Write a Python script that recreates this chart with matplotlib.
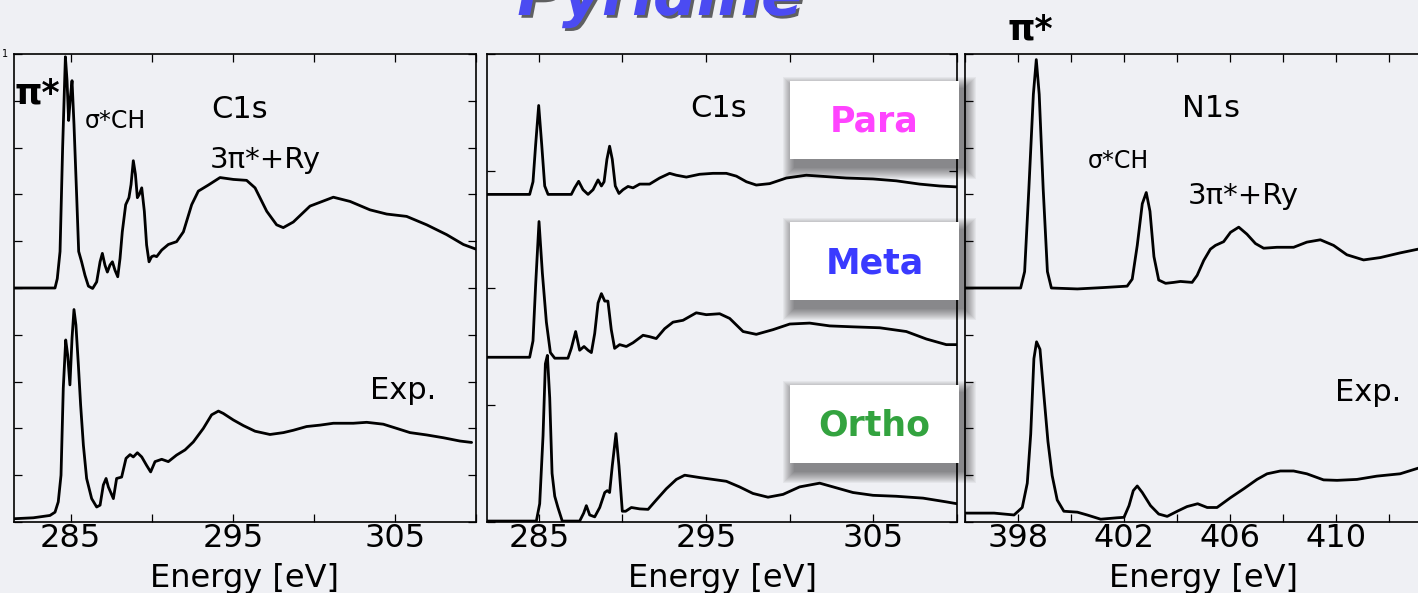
import matplotlib
matplotlib.use("Agg")
import matplotlib.pyplot as plt
import matplotlib.patheffects as pe
from matplotlib.patches import Rectangle
from matplotlib.ticker import MultipleLocator

# C1s, calculated (upper) and experiment (lower)
c1s_calc_e = [281.5, 284.03, 284.17, 284.34, 284.50, 284.67, 284.77, 284.87, 284.98, 285.08,
              285.20, 285.37, 285.49, 285.67, 285.88, 286.09, 286.35, 286.60, 286.81, 286.95,
              287.11, 287.26, 287.42, 287.57, 287.73, 287.90, 288.04, 288.18, 288.39, 288.59,
              288.72, 288.86, 288.99, 289.11, 289.23, 289.38, 289.54, 289.68, 289.83, 289.99,
              290.14, 290.30, 290.61, 291.02, 291.53, 291.95, 292.46, 292.87, 293.49, 294.21,
              295.03, 295.85, 296.37, 297.09, 297.70, 298.11, 298.73, 299.76, 301.20, 302.23,
              303.46, 304.49, 305.72, 306.96, 308.19, 309.22, 310.0]
c1s_calc_i = [0.5, 0.5, 0.52, 0.578, 0.80, 0.994, 0.944, 0.858, 0.908, 0.943,
              0.85, 0.693, 0.578, 0.556, 0.527, 0.504, 0.499, 0.513, 0.556, 0.574,
              0.549, 0.534, 0.549, 0.556, 0.538, 0.524, 0.563, 0.62, 0.678, 0.693,
              0.721, 0.772, 0.743, 0.693, 0.70, 0.714, 0.664, 0.592, 0.556, 0.567,
              0.569, 0.567, 0.581, 0.593, 0.599, 0.62, 0.678, 0.707, 0.72, 0.736,
              0.732, 0.73, 0.714, 0.664, 0.635, 0.629, 0.641, 0.675, 0.694, 0.685,
              0.667, 0.658, 0.653, 0.635, 0.614, 0.593, 0.583]

c1s_exp_e = [281.5, 282.69, 283.72, 284.03, 284.23, 284.40, 284.54, 284.69, 284.81, 284.95,
             285.08, 285.20, 285.32, 285.47, 285.61, 285.78, 285.98, 286.29, 286.60, 286.81,
             287.01, 287.18, 287.32, 287.63, 287.83, 288.14, 288.41, 288.66, 288.86, 289.11,
             289.38, 289.68, 289.93, 290.20, 290.61, 291.02, 291.53, 292.05, 292.56, 293.18,
             293.69, 294.11, 294.41, 295.03, 295.65, 296.37, 297.29, 298.12, 298.73, 299.55,
             300.38, 301.20, 302.43, 303.26, 304.28, 305.11, 305.93, 306.96, 307.99, 309.01, 309.73]
c1s_exp_i = [0.007, 0.009, 0.014, 0.021, 0.043, 0.1, 0.286, 0.389, 0.357, 0.293,
             0.393, 0.454, 0.421, 0.336, 0.25, 0.164, 0.093, 0.05, 0.032, 0.036,
             0.079, 0.093, 0.075, 0.05, 0.093, 0.096, 0.136, 0.144, 0.139, 0.148,
             0.139, 0.121, 0.107, 0.129, 0.134, 0.129, 0.143, 0.154, 0.171, 0.2,
             0.229, 0.237, 0.232, 0.218, 0.206, 0.194, 0.187, 0.191, 0.196, 0.204,
             0.207, 0.211, 0.211, 0.213, 0.209, 0.2, 0.191, 0.186, 0.18, 0.173, 0.17]

# C1s by site
para_e = [281.9, 284.45, 284.65, 284.81, 284.99, 285.17, 285.35, 285.55, 286.94, 287.14,
          287.38, 287.64, 287.94, 288.24, 288.54, 288.74, 288.90, 289.07, 289.23, 289.39,
          289.57, 289.79, 290.03, 290.33, 290.63, 291.03, 291.62, 292.22, 292.82, 293.22,
          293.82, 294.61, 295.41, 296.21, 296.81, 297.41, 298.0, 298.80, 299.80, 300.99,
          302.19, 303.38, 304.98, 306.37, 307.77, 308.96, 310.0]
para_i = [0.70, 0.70, 0.727, 0.807, 0.89, 0.807, 0.718, 0.70, 0.70, 0.714,
          0.728, 0.71, 0.70, 0.71, 0.731, 0.718, 0.727, 0.775, 0.803, 0.775,
          0.718, 0.702, 0.71, 0.717, 0.714, 0.722, 0.722, 0.735, 0.745, 0.741,
          0.737, 0.743, 0.745, 0.745, 0.739, 0.727, 0.72, 0.723, 0.735, 0.741,
          0.738, 0.735, 0.733, 0.729, 0.722, 0.718, 0.716]

meta_e = [281.9, 284.45, 284.65, 284.81, 285.01, 285.21, 285.45, 285.69, 285.95, 286.74,
          286.94, 287.20, 287.44, 287.70, 287.94, 288.14, 288.34, 288.54, 288.74, 288.94,
          289.13, 289.33, 289.53, 289.83, 290.23, 290.63, 291.23, 291.62, 292.02, 292.52,
          293.02, 293.62, 294.41, 295.01, 295.81, 296.41, 297.21, 298.0, 299.0, 300.0,
          301.19, 302.39, 303.79, 305.38, 306.97, 308.17, 309.36, 310.0]
meta_i = [0.352, 0.352, 0.387, 0.508, 0.642, 0.532, 0.427, 0.362, 0.35, 0.35,
          0.371, 0.407, 0.367, 0.375, 0.367, 0.362, 0.403, 0.468, 0.488, 0.472,
          0.472, 0.411, 0.371, 0.379, 0.375, 0.383, 0.399, 0.396, 0.392, 0.413,
          0.427, 0.431, 0.447, 0.443, 0.445, 0.435, 0.407, 0.401, 0.411, 0.423,
          0.425, 0.419, 0.417, 0.415, 0.407, 0.391, 0.379, 0.379]

ortho_e = [281.9, 284.85, 285.05, 285.25, 285.39, 285.51, 285.65, 285.79, 285.95, 286.14,
           286.40, 287.44, 287.68, 287.84, 288.04, 288.34, 288.64, 288.94, 289.09, 289.23,
           289.39, 289.61, 289.79, 289.99, 290.19, 290.53, 291.03, 291.53, 292.02, 292.62,
           293.22, 293.72, 294.61, 295.41, 296.21, 297.0, 297.80, 298.70, 299.60, 300.59,
           301.79, 302.59, 303.78, 304.98, 306.37, 307.97, 309.36, 310.0]
ortho_i = [0.002, 0.002, 0.039, 0.184, 0.338, 0.356, 0.265, 0.104, 0.055, 0.031,
           0.002, 0.002, 0.019, 0.035, 0.015, 0.011, 0.031, 0.063, 0.067, 0.063,
           0.12, 0.189, 0.12, 0.023, 0.023, 0.031, 0.028, 0.027, 0.047, 0.071,
           0.091, 0.1, 0.095, 0.091, 0.087, 0.075, 0.061, 0.053, 0.059, 0.075,
           0.083, 0.075, 0.063, 0.057, 0.055, 0.051, 0.043, 0.039]

# N1s, calculated (upper) and experiment (lower)
n1s_calc_e = [396.0, 398.10, 398.25, 398.41, 398.58, 398.69, 398.80, 398.95, 399.11, 399.26,
              400.24, 401.24, 402.12, 402.31, 402.50, 402.69, 402.84, 402.98, 403.13, 403.31,
              403.57, 403.88, 404.13, 404.57, 404.76, 405.01, 405.26, 405.45, 405.76, 406.02,
              406.33, 406.64, 406.96, 407.27, 407.77, 408.40, 408.90, 409.41, 409.91, 410.41,
              411.04, 411.67, 412.42, 413.10, 414.0]
n1s_calc_i = [0.5, 0.5, 0.535, 0.712, 0.914, 0.988, 0.914, 0.712, 0.535, 0.5,
              0.498, 0.501, 0.504, 0.519, 0.591, 0.68, 0.704, 0.664, 0.567, 0.517,
              0.51, 0.512, 0.514, 0.512, 0.527, 0.559, 0.583, 0.591, 0.599, 0.619,
              0.63, 0.615, 0.595, 0.585, 0.587, 0.587, 0.598, 0.603, 0.591, 0.571,
              0.56, 0.565, 0.575, 0.583, 0.59]

n1s_exp_e = [396.0, 397.10, 397.85, 398.16, 398.35, 398.48, 398.60, 398.70, 398.83, 398.98,
             399.13, 399.29, 399.48, 399.73, 400.24, 400.61, 401.12, 401.74, 402.0, 402.19,
             402.35, 402.50, 402.69, 403.0, 403.31, 403.63, 404.01, 404.38, 404.78, 405.14,
             405.51, 406.02, 406.52, 407.02, 407.40, 407.90, 408.40, 408.90, 409.53, 410.04,
             410.79, 411.54, 412.42, 413.10, 414.0]
n1s_exp_i = [0.019, 0.019, 0.015, 0.031, 0.083, 0.188, 0.349, 0.385, 0.369, 0.269,
             0.172, 0.099, 0.047, 0.023, 0.021, 0.015, 0.006, 0.009, 0.01, 0.035,
             0.067, 0.077, 0.063, 0.035, 0.017, 0.012, 0.023, 0.033, 0.039, 0.031,
             0.031, 0.052, 0.071, 0.091, 0.103, 0.109, 0.109, 0.103, 0.09, 0.089,
             0.091, 0.098, 0.103, 0.115, 0.122]

site_labels = ["Para", "Meta", "Ortho"]
site_colors = ["#ff44ff", "#3a3aff", "#33a33f"]

W, H = 1418, 593
bg = "#eff0f4"
fig = plt.figure(figsize=(W / 100, H / 100), dpi=100, facecolor=bg)
plt.rcParams["font.family"] = ["DejaVu Sans"]

def px(x0, y0, w, h):
    # pixel box (top-left origin) -> figure fraction
    return [x0 / W, 1 - (y0 + h) / H, w / W, h / H]

ax1 = fig.add_axes(px(14, 54, 462, 468))
ax2 = fig.add_axes(px(487, 54, 470, 468))
ax3 = fig.add_axes(px(965, 54, 477, 468))

lw = 2.0
style = dict(color="k", lw=lw, solid_joinstyle="round", solid_capstyle="round")
ax1.plot(c1s_calc_e, c1s_calc_i, **style)
ax1.plot(c1s_exp_e, c1s_exp_i, **style)
ax2.plot(para_e, para_i, **style)
ax2.plot(meta_e, meta_i, **style)
ax2.plot(ortho_e, ortho_i, **style)
ax3.plot(n1s_calc_e, n1s_calc_i, **style)
ax3.plot(n1s_exp_e, n1s_exp_i, **style)

ax1.set_xlim(281.5, 310)
ax2.set_xlim(281.9, 310)
ax3.set_xlim(396, 414)

for ax in (ax1, ax2, ax3):
    ax.set_facecolor("none")
    ax.set_ylim(0, 1)
    for s in ax.spines.values():
        s.set_linewidth(1.2)
    ax.tick_params(which="both", direction="in", top=True, right=True,
                   length=6, width=0.9, labelsize=23, pad=1, labelleft=False)
    ax.set_xlabel("Energy [eV]", fontsize=23, labelpad=6)

for ax in (ax1, ax2):
    ax.xaxis.set_minor_locator(MultipleLocator(5))
    ax.set_xticks([285, 295, 305])
ax3.set_xticks([398, 402, 406, 410])
ax3.xaxis.set_minor_locator(MultipleLocator(2))

ax1.yaxis.set_major_locator(MultipleLocator(0.1))
ax3.yaxis.set_major_locator(MultipleLocator(0.1))
ax2.yaxis.set_major_locator(MultipleLocator(0.25))
ax1.text(-0.012, 1.0, "1", transform=ax1.transAxes, fontsize=7, ha="right", va="center")

# annotations
ax1.text(0.002, 0.895, "π*", transform=ax1.transAxes, fontsize=25, fontweight="bold")
ax1.text(0.154, 0.842, "σ*CH", transform=ax1.transAxes, fontsize=17)
ax1.text(0.426, 0.863, "C1s", transform=ax1.transAxes, fontsize=22)
ax1.text(0.424, 0.756, "3π*+Ry", transform=ax1.transAxes, fontsize=21)
ax1.text(0.771, 0.262, "Exp.", transform=ax1.transAxes, fontsize=22)

ax2.text(0.432, 0.865, "C1s", transform=ax2.transAxes, fontsize=22)

ax3.text(0.09, 1.03, "π*", transform=ax3.transAxes, fontsize=25, fontweight="bold", clip_on=False)
ax3.text(0.455, 0.865, "N1s", transform=ax3.transAxes, fontsize=22)
ax3.text(0.258, 0.756, "σ*CH", transform=ax3.transAxes, fontsize=17)
ax3.text(0.467, 0.679, "3π*+Ry", transform=ax3.transAxes, fontsize=21)
ax3.text(0.776, 0.258, "Exp.", transform=ax3.transAxes, fontsize=22)

# site label boxes with soft shadow below-right
box_tops = [81, 222, 385]
bw, bh = 169, 78
for top, lab, col in zip(box_tops, site_labels, site_colors):
    for k in range(1, 13):
        g = 13 - k
        x0 = 790 + 5 - g
        y0 = top + 8 - g
        r = px(x0, y0, bw + 2 * g, bh + 2 * g)
        fig.add_artist(Rectangle((r[0], r[1]), r[2], r[3], transform=fig.transFigure,
                                 facecolor="k", edgecolor="none", alpha=0.045, zorder=5))
    r = px(790, top, bw, bh)
    fig.add_artist(Rectangle((r[0], r[1]), r[2], r[3], transform=fig.transFigure,
                             facecolor="white", edgecolor="none", zorder=6))
    fig.text((790 + bw / 2) / W, 1 - (top + 41) / H, lab, color=col, fontsize=25,
             fontweight="bold", ha="center", va="center", zorder=7)

# title, cut off at the top
fig.text(660 / W, 1 - 15 / H, "Pyridine", color="#4b4bf2", fontsize=44,
         fontweight="bold", style="italic", ha="center", va="baseline",
         path_effects=[pe.withSimplePatchShadow(offset=(2, -2), shadow_rgbFace="k", alpha=0.6)])

fig.savefig("out.png", dpi=100, facecolor=bg)
